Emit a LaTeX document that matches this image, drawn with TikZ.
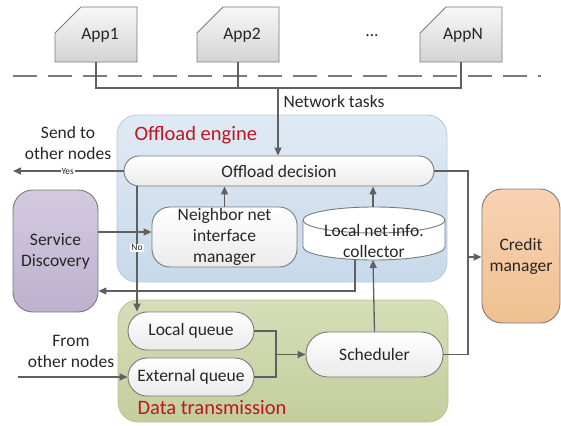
\documentclass[tikz,border=0pt]{standalone}
\usepackage{fontspec}
\setmainfont{Carlito}
\usetikzlibrary{arrows.meta}
\definecolor{txt}{HTML}{262626}
\definecolor{ln}{HTML}{606060}
\definecolor{bd}{HTML}{7A7A7A}
\definecolor{ttl}{HTML}{C0141E}
\definecolor{engT}{HTML}{E0EAF4}
\definecolor{engB}{HTML}{C7D9EA}
\definecolor{engD}{HTML}{B6CADD}
\definecolor{datT}{HTML}{D5DEB8}
\definecolor{datB}{HTML}{C3CE9C}
\definecolor{datD}{HTML}{B9C596}
\definecolor{sdT}{HTML}{D4CAE0}
\definecolor{sdB}{HTML}{BDB1CF}
\definecolor{cmT}{HTML}{F8D3B2}
\definecolor{cmB}{HTML}{F0C091}
\begin{document}
\begin{tikzpicture}[x=1pt,y=-1pt,
  font=\fontsize{17.5}{21}\selectfont, text=txt,
  container/.style={rounded corners=20pt, inner sep=0pt, line width=0.8pt},
  inbox/.style={draw=bd, line width=0.9pt, top color=white, bottom color=black!8, inner sep=0pt, align=center},
  sidebox/.style={draw=bd, line width=0.9pt, inner sep=0pt, align=center, rounded corners=20pt},
  appfill/.style={draw=bd, line width=0.9pt, top color=black!3, bottom color=black!17},
  conn/.style={draw=ln, line width=1.3pt},
  arr/.style={conn, -{Triangle[length=8pt,width=7pt]}},
  tag/.style={fill=white, inner sep=1pt, font=\fontsize{9.5}{11}\selectfont},
  title/.style={anchor=west, text=ttl, font=\fontsize{20.5}{24}\selectfont}]
\useasboundingbox (0,0) rectangle (561,425);

% containers
\node[container, draw=engD, top color=engT, bottom color=engB, minimum width=330, minimum height=167] (eng) at (282,198.5) {};
\node[container, draw=datD, top color=datT, bottom color=datB, minimum width=330, minimum height=122] (dat) at (283,361) {};
\node[title] (engt) at (131,135) {Offload engine};
\node[title] (datt) at (134,408) {Data transmission};

% apps
\shade[appfill] (55,62) -- (55,33) -- (81,7) -- (137,7) -- (137,62) -- cycle;
\shade[appfill] (197,62) -- (197,33) -- (223,7) -- (279,7) -- (279,62) -- cycle;
\shade[appfill] (420,62) -- (420,33) -- (446,7) -- (502,7) -- (502,62) -- cycle;
\node (app1) at (100,35) {App1};
\node (app2) at (242,35) {App2};
\node (appn) at (463,35) {AppN};
\node (dots) at (372,36) {...};
\coordinate (app1b) at (96,62);
\coordinate (app2b) at (238,62);
\coordinate (appnb) at (461,62);
\coordinate (bus1) at (96,88);
\coordinate (bus2) at (238,88);
\coordinate (busn) at (461,88);
\coordinate (bust) at (278,88);

\draw[draw=bd, line width=1.3pt, dash pattern=on 24pt off 11pt] (13,76) -- (541,76);

% inner boxes
\node[inbox, rounded corners=15pt, minimum width=310, minimum height=30] (dec) at (279,171) {Offload decision};
\node[inbox, rounded corners=18pt, minimum width=145, minimum height=60] (nb) at (224.5,237) {Neighbor net\\interface\\manager};
\node[inbox, rounded corners=19pt, minimum width=126, minimum height=38] (lq) at (191,331) {Local queue};
\node[inbox, rounded corners=19pt, minimum width=126, minimum height=38] (eq) at (191,377) {External queue};
\node[inbox, rounded corners=22pt, minimum width=137, minimum height=45] (sch) at (374.5,354.5) {Scheduler};

% collector cylinder
\filldraw[draw=bd, line width=0.9pt, fill=white] (303,220) -- (303,247) arc (180:360:71pt and 13pt) -- (445,220) arc (0:180:71pt and 13pt) -- cycle;
\draw[draw=bd, line width=0.9pt] (303,220) arc (180:360:71pt and 13pt);
\node[align=center] (coll) at (374,241) {Local net info.\\collector};
\coordinate (colltop) at (373,207);
\coordinate (collbot) at (373,260);
\coordinate (collout) at (355,259.5);

% side boxes
\node[sidebox, top color=sdT, bottom color=sdB, minimum width=85, minimum height=122] (sd) at (55.5,251) {Service\\Discovery};
\node[sidebox, top color=cmT, bottom color=cmB, minimum width=78, minimum height=134] (cm) at (521,256) {Credit\\manager};

% texts
\node[anchor=west] (nt) at (280,101) {Network tasks};
\node[align=center] (send) at (68,143) {Send to\\other nodes};
\node[align=center] (from) at (71,351) {From\\other nodes};

% network connectors
\draw[conn] (app1b) -- (bus1) -- (busn) -- (appnb);
\draw[conn] (app2b) -- (bus2);
\draw[arr] (bust) -- (bust |- dec.north);

% offload connectors
\coordinate (yesend) at (13,171);
\draw[arr] (dec.west) -- (yesend) node[tag, pos=0.505] {Yes};
\coordinate (nox) at (137,0);
\draw[arr] (nox |- dec.south) -- (nox |- lq.north) node[tag, pos=0.49] {No};
\draw[arr] (nb.north) -- (nb.north |- dec.south);
\draw[arr] (colltop) -- (colltop |- dec.south);
\coordinate (nbin) at ([yshift=5pt]nb.west);
\coordinate (sdin) at ([yshift=-40pt]sd.east);
\draw[arr] (sd.east |- nbin) -- (nbin);
\draw[arr] (collout) |- (sdin);

% data connectors
\coordinate (jx) at (276,354.5);
\draw[conn] (lq.east) -| (jx) |- (eq.east);
\draw[arr] (jx) -- (sch.west);
\coordinate (fromstart) at (18,377);
\draw[arr] (fromstart) -- (eq.west);
\draw[arr] (sch.north) -- (collbot);

% right loop
\coordinate (rx) at (468,257);
\draw[conn] (dec.east) -| (sch.east -| rx) -- (sch.east);
\draw[arr] (rx) -- (rx -| cm.west);
\end{tikzpicture}
\end{document}
